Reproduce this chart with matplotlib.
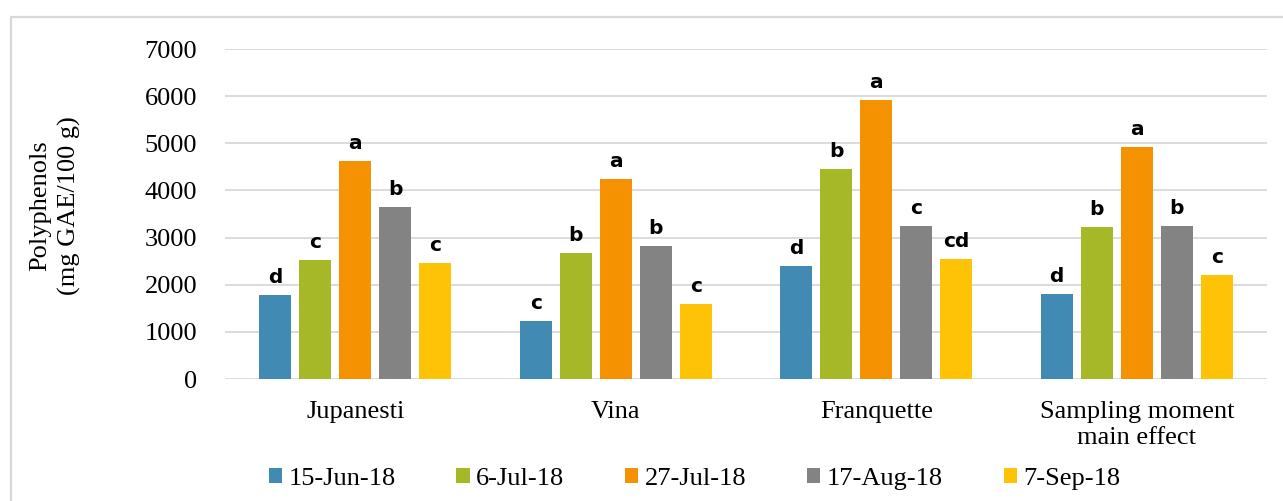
import numpy as np
import matplotlib
matplotlib.use('Agg')
import matplotlib.pyplot as plt
from matplotlib.patches import Patch, Rectangle

# categories on the x axis
varieties = ['Jupanesti', 'Vina', 'Franquette', 'Sampling moment\nmain effect']

# sampling dates (series)
dates = ['15-Jun-18', '6-Jul-18', '27-Jul-18', '17-Aug-18', '7-Sep-18']
colors = ['#418AB3', '#A6B727', '#F59201', '#838383', '#FEC306']

# polyphenols, mg GAE/100 g, one list per sampling date
jun15 = [1790, 1230, 2400, 1805]
jul6 = [2525, 2675, 4455, 3225]
jul27 = [4625, 4245, 5920, 4920]
aug17 = [3650, 2820, 3245, 3245]
sep7 = [2460, 1590, 2545, 2205]

# significance letters, same order
jun15_lbl = ['d', 'c', 'd', 'd']
jul6_lbl = ['c', 'b', 'b', 'b']
jul27_lbl = ['a', 'a', 'a', 'a']
aug17_lbl = ['b', 'b', 'c', 'b']
sep7_lbl = ['c', 'c', 'cd', 'c']

series = [jun15, jul6, jul27, aug17, sep7]
letters = [jun15_lbl, jul6_lbl, jul27_lbl, aug17_lbl, sep7_lbl]

serif = 'Liberation Serif'
fs = 19

fig = plt.figure(figsize=(12.83, 5.01), dpi=100)
ax = fig.add_axes([225/1283, 1 - 379/501, (1267 - 225)/1283, (379 - 49)/501])

x = np.arange(len(varieties))
step = 0.1535
width = 0.123
for i, (vals, lbls) in enumerate(zip(series, letters)):
    pos = x + (i - 2) * step
    bars = ax.bar(pos, vals, width, color=colors[i], zorder=3)
    for b, t in zip(bars, lbls):
        ax.annotate(t, (b.get_x() + b.get_width()/2, b.get_height()),
                    xytext=(0, 8.5), textcoords='offset points',
                    ha='center', va='baseline', fontsize=14.5,
                    fontweight='bold', family='DejaVu Sans')

ax.set_xlim(-0.5, len(varieties) - 0.5)
ax.set_ylim(0, 7000)
ax.set_yticks(range(0, 7001, 1000))
ax.yaxis.grid(True, color='#d9d9d9', linewidth=1.3, zorder=0)
ax.set_axisbelow(True)
for s in ax.spines.values():
    s.set_visible(False)
ax.tick_params(axis='both', length=0, labelsize=fs)
ax.tick_params(axis='y', pad=20)
ax.tick_params(axis='x', pad=16)
ax.set_xticks(x)
ax.set_xticklabels(varieties, family=serif, fontsize=fs, linespacing=1.2)
for lab in ax.get_yticklabels():
    lab.set_family(serif)

fig.text(55/1283, 1 - 206/501, 'Polyphenols\n(mg GAE/100 g)', rotation=90,
         ha='center', va='center', family=serif, fontsize=fs,
         multialignment='center', linespacing=1.4)

handles = [Patch(facecolor=c) for c in colors]
fig.legend(handles, dates, loc='center', ncol=5, frameon=False,
           bbox_to_anchor=(0.5415, 1 - 479/501), prop={'family': serif, 'size': fs},
           handlelength=0.5, handleheight=0.5, handletextpad=0.25,
           columnspacing=2.3)

# outer chart frame (runs off the right and bottom edges)
fig.patches.append(Rectangle((11/1283, -0.1), 1.2, 1 - 17/501 + 0.1,
                             transform=fig.transFigure, fill=False,
                             edgecolor='#d9d9d9', linewidth=1.6))

fig.savefig('out.png', dpi=100)
